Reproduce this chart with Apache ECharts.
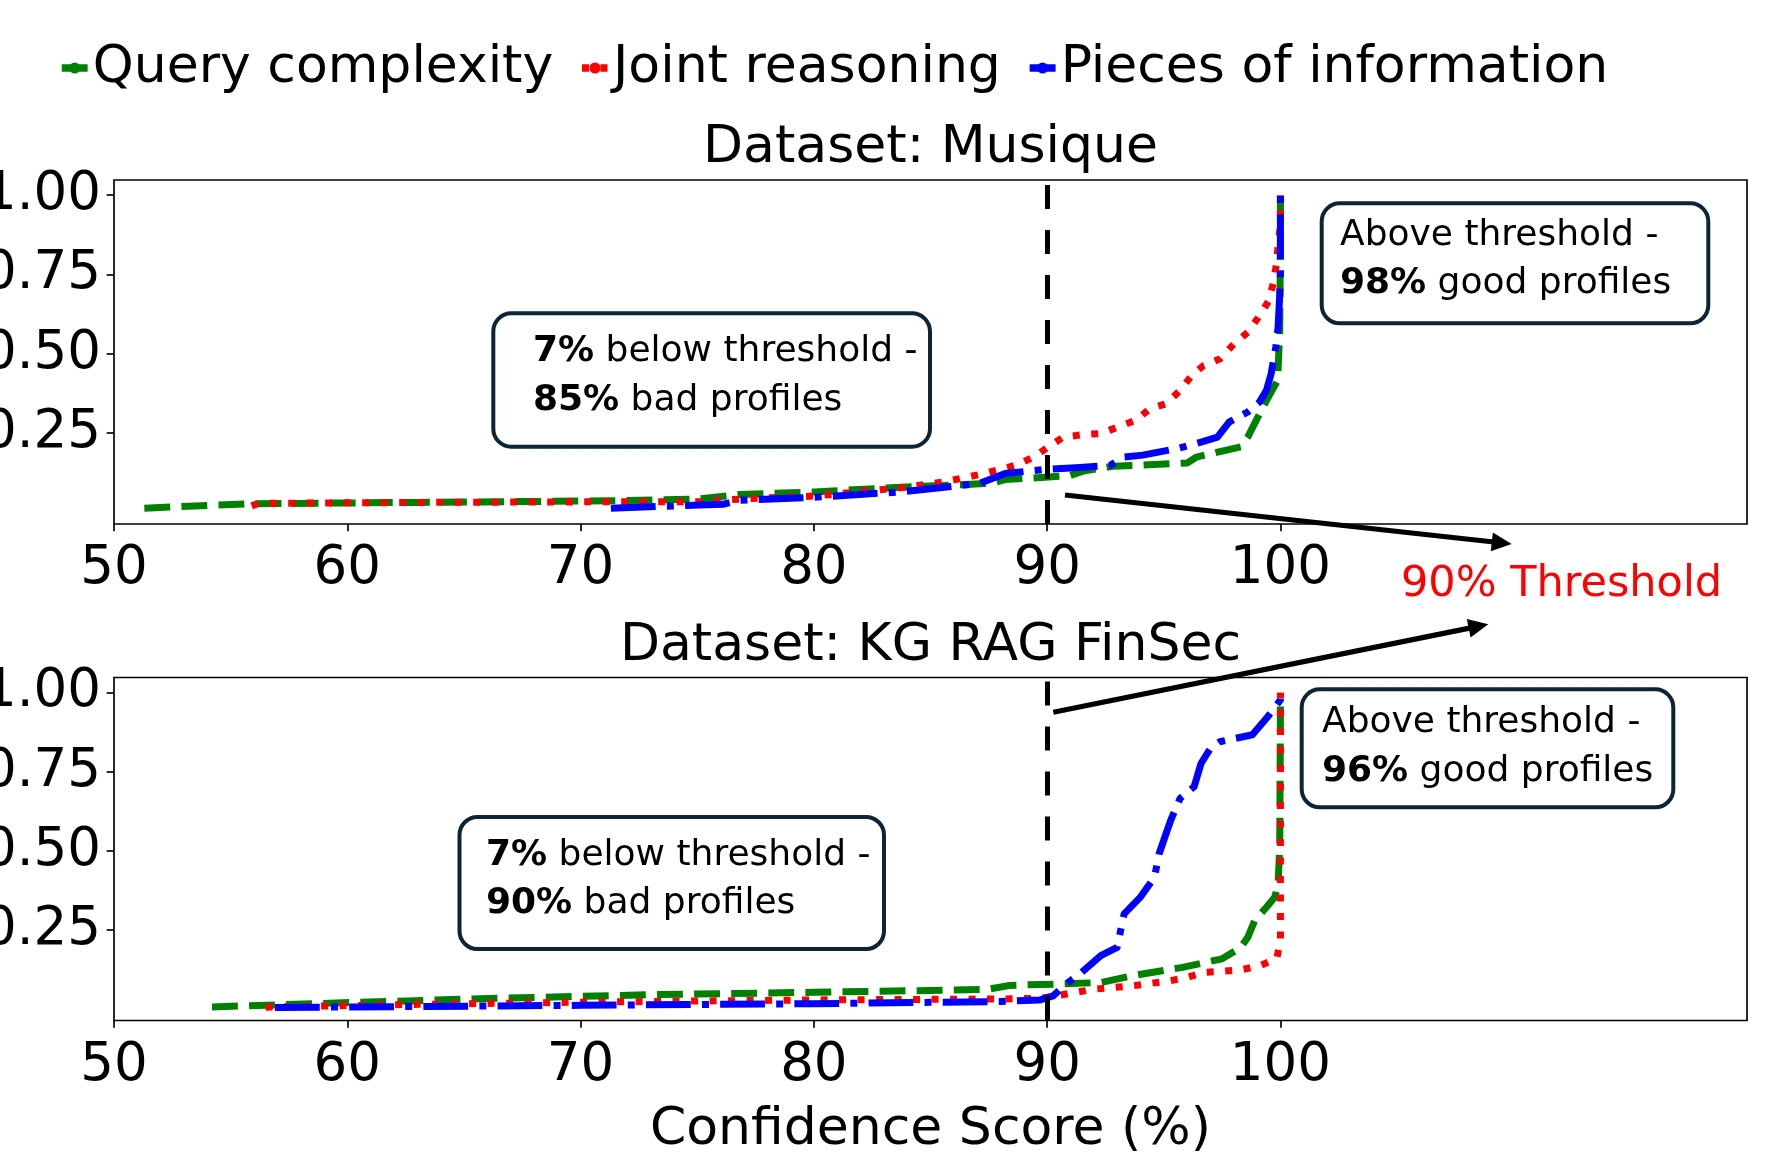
<!DOCTYPE html>
<html><head><meta charset="utf-8">
<script src="https://cdn.jsdelivr.net/npm/echarts@6.0.0/dist/echarts.min.js"></script>
<style>html,body{margin:0;padding:0;background:#fff}#c{width:1791px;height:1163px}</style>
</head><body><div id="c"></div>
<script>
// ---------- data ----------
const seriesNames = ['Query complexity', 'Joint reasoning', 'Pieces of information'];
const panelTitles = ['Dataset: Musique', 'Dataset: KG RAG FinSec'];
const xTicks = [50, 60, 70, 80, 90, 100];
const yTicks = [0.25, 0.5, 0.75, 1.0];
const threshold = 90;

const musiqueQuery = [[51.3,0.014],[55.9,0.028],[63,0.032],[71.2,0.037],[75.1,0.043],[76.8,0.057],[80.0,0.065],[84.3,0.082],[87.6,0.092],[88.2,0.104],[89.9,0.111],[91.0,0.117],[91.6,0.132],[92.8,0.146],[96.0,0.156],[96.4,0.175],[98.3,0.207],[98.6,0.238],[99.0,0.296],[99.4,0.353],[99.88,0.416],[99.97,0.573],[100,0.856],[100,1.0]];
const musiqueJoint = [[55.9,0.021],[56.2,0.029],[63,0.032],[71.2,0.034],[75.1,0.034],[76.1,0.040],[77.6,0.045],[80.0,0.052],[84.0,0.080],[85.6,0.097],[87.3,0.123],[88.7,0.150],[89.5,0.178],[90.05,0.207],[90.7,0.238],[91.6,0.246],[92.3,0.249],[93.05,0.270],[93.8,0.291],[94.4,0.327],[95.1,0.343],[95.7,0.385],[96.2,0.432],[96.7,0.463],[97.4,0.484],[98.0,0.531],[98.6,0.568],[99.05,0.615],[99.5,0.667],[99.7,0.725],[99.84,0.788],[99.91,0.851],[100,0.908],[100,1.0]];
const musiquePieces = [[71.3,0.014],[76.1,0.026],[76.8,0.039],[80.0,0.048],[83.7,0.065],[87.1,0.092],[88.2,0.123],[89.9,0.136],[91.4,0.142],[92.7,0.149],[93.3,0.175],[94.1,0.181],[95.6,0.202],[96.6,0.222],[97.3,0.238],[97.8,0.285],[98.6,0.317],[99.1,0.348],[99.4,0.385],[99.6,0.437],[99.8,0.521],[99.9,0.584],[100,0.73],[100,1.0]];

const finsecQuery = [[54.2,0.007],[60.2,0.021],[66.8,0.035],[73.4,0.046],[80.0,0.053],[87.4,0.062],[88.4,0.075],[90.3,0.079],[92.3,0.084],[93.7,0.106],[95.8,0.132],[97.5,0.159],[98.3,0.195],[98.6,0.227],[98.9,0.280],[99.4,0.322],[99.76,0.354],[99.9,0.396],[99.97,0.512],[100,0.935],[100,1.0]];
const finsecJoint = [[56.5,0.006],[62,0.014],[70,0.022],[80,0.029],[88,0.032],[89.7,0.034],[90.4,0.042],[92.0,0.063],[93.7,0.074],[95.3,0.090],[96.0,0.100],[96.7,0.116],[98.3,0.124],[99.1,0.137],[99.84,0.159],[100,0.217],[100,1.0]];
const finsecPieces = [[56.9,0.005],[70,0.012],[80,0.017],[88,0.024],[89.7,0.029],[90.26,0.042],[90.8,0.079],[91.4,0.111],[92.3,0.169],[93.0,0.195],[93.3,0.301],[94.0,0.354],[94.6,0.417],[94.8,0.491],[95.1,0.555],[95.3,0.597],[95.7,0.666],[96.3,0.703],[96.6,0.777],[97.0,0.824],[97.4,0.845],[98.8,0.867],[99.4,0.919],[100,0.977],[100,1.0]];

const panelData = [[musiqueQuery, musiqueJoint, musiquePieces], [finsecQuery, finsecJoint, finsecPieces]];

// ---------- styling ----------
const FONT = 'DejaVu Sans';
const LW = 7;
const lineStyles = [
  { color: '#008000', type: [25.9, 11.2] },
  { color: '#ff0000', type: [7, 11.5] },
  { color: '#0000ff', type: [44.8, 11.2, 7, 11.2] }
];
const grids = [
  { left: 114, width: 1633, top: 180, height: 344 },
  { left: 114, width: 1633, top: 677.5, height: 343 }
];

const chart = echarts.init(document.getElementById('c'), null, { renderer: 'canvas' });

const xAxes = grids.map((g, i) => ({
  type: 'value', gridIndex: i, min: 50, max: 120,
  axisLine: { show: false, onZero: false },
  axisTick: { show: true, length: 7.3, customValues: xTicks, lineStyle: { color: '#000', width: 1.67 } },
  axisLabel: { customValues: xTicks, margin: 19, fontSize: 53, fontFamily: FONT, color: '#000' },
  splitLine: { show: false },
  name: i === 1 ? 'Confidence Score (%)' : '',
  nameLocation: 'middle', nameGap: 84,
  nameTextStyle: { fontSize: 52, fontFamily: FONT, color: '#000' }
}));
const yAxes = grids.map((g, i) => ({
  type: 'value', gridIndex: i, min: -0.036, max: 1.048,
  axisLine: { show: false, onZero: false },
  axisTick: { show: true, length: 7.3, customValues: yTicks, lineStyle: { color: '#000', width: 1.67 } },
  axisLabel: { customValues: yTicks, margin: 13, fontSize: 53, fontFamily: FONT, color: '#000',
    formatter: v => v.toFixed(2) },
  splitLine: { show: false }
}));

const series = [];
panelData.forEach((sets, p) => {
  sets.forEach((d, k) => {
    const s = {
      type: 'line', name: seriesNames[k], xAxisIndex: p, yAxisIndex: p,
      data: d, symbol: 'none', showSymbol: false, smooth: false, clip: true,
      lineStyle: { width: LW, color: lineStyles[k].color, type: lineStyles[k].type, cap: 'butt', join: 'round' },
      itemStyle: { color: lineStyles[k].color },
      emphasis: { disabled: true }, animation: false
    };
    if (k === 2) {
      s.markLine = {
        silent: true, symbol: ['none', 'none'], label: { show: false }, animation: false,
        lineStyle: { color: '#000', width: 5, type: [24, 21] },
        emphasis: { disabled: true },
        data: [{ xAxis: threshold }]
      };
    }
    series.push(s);
  });
});

// ---------- annotations ----------
function arrow(x1, y1, x2, y2) {
  const dx = x2 - x1, dy = y2 - y1, L = Math.hypot(dx, dy), ux = dx / L, uy = dy / L;
  const hl = 20, hw = 9.5;
  const bx = x2 - ux * hl, by = y2 - uy * hl;
  return [
    { type: 'line', z: 110, shape: { x1, y1, x2: bx + ux * 2, y2: by + uy * 2 }, style: { stroke: '#000', lineWidth: 5.2 } },
    { type: 'polygon', z: 111, shape: { points: [[x2, y2], [bx - uy * hw, by + ux * hw], [bx + uy * hw, by - ux * hw]] }, style: { fill: '#000' } }
  ];
}
function box(x, y, w, h, tx, ty, text) {
  return [
    { type: 'rect', z: 100, shape: { x, y, width: w, height: h, r: 18 }, style: { fill: '#fff', stroke: '#0b2535', lineWidth: 4 } },
    { type: 'text', z: 101, x: tx, y: ty, style: {
      text, fontSize: 36, fontFamily: FONT, fill: '#000', lineHeight: 48.5, verticalAlign: 'top', align: 'left',
      rich: { b: { fontWeight: 'bold', fontSize: 36, fontFamily: FONT, lineHeight: 48.5, fill: '#000' } }
    } }
  ];
}
const graphics = [].concat(
  [{ type: 'text', z: 100, x: 930.5, y: 148, style: { text: panelTitles[0], fontSize: 52, fontFamily: FONT, fill: '#000', align: 'center', verticalAlign: 'middle' } },
   { type: 'text', z: 100, x: 930.5, y: 646, style: { text: panelTitles[1], fontSize: 52, fontFamily: FONT, fill: '#000', align: 'center', verticalAlign: 'middle' } },
   { type: 'text', z: 100, x: 1401, y: 585, style: { text: '90% Threshold', fontSize: 43, fontFamily: FONT, fill: '#ff0000', align: 'left', verticalAlign: 'middle' } }],
  box(493.3, 313.3, 436.7, 133.4, 533, 327.8, '{b|7%} below threshold -\n{b|85%} bad profiles'),
  box(1321.7, 203.3, 386.6, 120, 1340, 211.2, 'Above threshold -\n{b|98%} good profiles'),
  box(459.5, 817, 424.5, 132, 486, 830.9, '{b|7%} below threshold -\n{b|90%} bad profiles'),
  box(1301.7, 689.3, 371.6, 118, 1322, 698.5, 'Above threshold -\n{b|96%} good profiles'),
  arrow(1065, 495, 1511.7, 544),
  arrow(1053.3, 712.3, 1488.3, 624.3)
);

chart.setOption({
  animation: false,
  backgroundColor: '#fff',
  textStyle: { fontFamily: FONT },
  legend: {
    data: seriesNames, left: 58, top: 42, padding: 0,
    itemWidth: 26, itemHeight: 14, itemGap: 25,
    textStyle: { fontSize: 52, fontFamily: FONT, color: '#000' },
    lineStyle: { width: 7.5 },
    selectedMode: false
  },
  grid: grids.map(g => Object.assign({ show: true, borderColor: '#000', borderWidth: 1.67, backgroundColor: 'transparent', containLabel: false, outerBoundsMode: 'none' }, g)),
  xAxis: xAxes,
  yAxis: yAxes,
  series,
  graphic: graphics
});
</script></body></html>
